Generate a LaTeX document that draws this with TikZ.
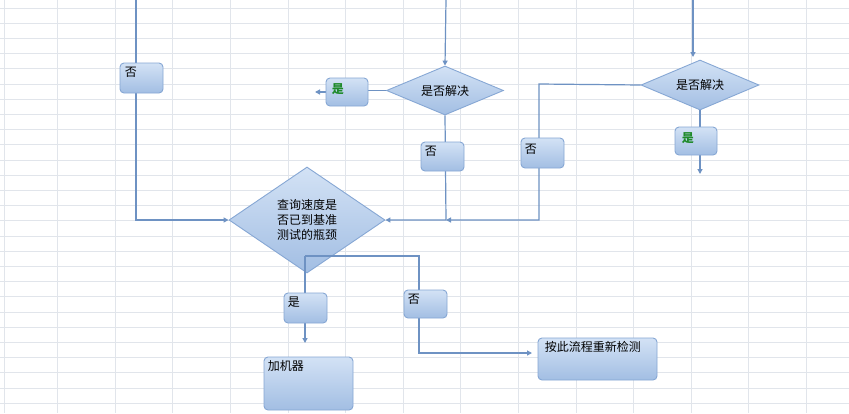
\documentclass[tikz,border=0pt]{standalone}
\usepackage{fontspec}
\newfontfamily\cjk{Noto Sans CJK SC}
\usetikzlibrary{shapes.geometric,arrows.meta}
\definecolor{gridc}{HTML}{E1E5EB}
\definecolor{linec}{HTML}{6E92C3}
\definecolor{boxtop}{HTML}{D3E2F5}
\definecolor{boxbot}{HTML}{A2BEE3}
\definecolor{boxedge}{HTML}{86A7D4}
\definecolor{yesgreen}{HTML}{1E8A2A}
\tikzset{
  flowbox/.style={draw=boxedge, line width=0.9pt, rounded corners=4pt, top color=boxtop, bottom color=boxbot, inner sep=0pt},
  decide/.style={diamond, shape aspect=2, draw=boxedge, line width=0.9pt, top color=boxtop, bottom color=boxbot, inner sep=0pt, align=center},
  conn/.style={draw=linec, line width=1.2pt},
  arr/.style={conn, -{Triangle[length=5pt,width=5pt]}},
  tl/.style n args={3}{label={[anchor=north west,inner sep=0pt,xshift=#1,yshift=#2]north west:#3}},
  gyes/.style={tl={#1}{-6pt}{\textcolor{yesgreen}{\bfseries 是}}}
}
\begin{document}
\begin{tikzpicture}[x=1pt,y=-1pt,font=\cjk\fontsize{12}{15}\selectfont]
\useasboundingbox (0,0) rectangle (849,413);
\fill[white] (0,0) rectangle (849,413);
% spreadsheet grid
\foreach \k in {0,...,26} \draw[gridc,line width=0.8pt] (0,{8+15.2*\k}) -- (849,{8+15.2*\k});
\foreach \k in {1,...,14} \draw[gridc,line width=0.8pt] ({57.6*\k},0) -- ({57.6*\k},413);
\draw[gridc,line width=0.8pt] (4,0) -- (4,413);

% nodes (shapes)
\node[decide, minimum width=156pt, minimum height=106pt] (big) at (307,220) {查询速度是\\否已到基准\\测试的瓶颈};
\node[decide, minimum width=117pt, minimum height=49pt] (diaM) at (445,90.5) {是否解决};
\node[decide, minimum width=118pt, minimum height=50pt] (diaR) at (700,85) {是否解决};

% coordinates
\coordinate (topL) at (136,0);
\coordinate (turnL) at (136,220);
\coordinate (topM) at (446,0);
\coordinate (endYesM) at (315,92);
\coordinate (turnM) at (446,220);
\coordinate (topR) at (693,0);
\coordinate (tipR) at (693,57);
\coordinate (endYesR) at (700,174);
\coordinate (cR1) at (539,84);
\coordinate (cR2) at (539,220);
\coordinate (split) at (305,256);
\coordinate (cB1) at (419,256);
\coordinate (cB2) at (419,353);
\coordinate (endRe) at (532,353);
\coordinate (endYesB) at (305,343);

% connectors
\draw[arr] (topL) -- (turnL) -- (big.west);
\draw[arr] (topM) -- (diaM.north);
\draw[conn] (diaM.west) -- (361,90.5);
\draw[arr] (330,92) -- (endYesM);
\draw[arr] (diaM.south) -- (turnM) -- (big.east);
\draw[arr] (topR) -- (tipR);
\draw[conn] (diaR.south) -- (700,141);
\draw[arr] (700,150) -- (endYesR);
\draw[arr] (diaR.west) -- (cR1) -- (cR2) -- (turnM);
\draw[arr] (split) -- (cB1) -- (cB2) -- (endRe);
\draw[arr] (split) -- (endYesB);

% boxes
\node[flowbox, minimum width=43pt, minimum height=30pt, tl={5pt}{-4pt}{否}] (noL) at (141.5,78) {};
\node[flowbox, minimum width=42pt, minimum height=28pt, gyes={6pt}] (yesM) at (347,92) {};
\node[flowbox, minimum width=43pt, minimum height=29pt, tl={4pt}{-4pt}{否}] (noM) at (442.5,156.5) {};
\node[flowbox, minimum width=43pt, minimum height=30pt, tl={4pt}{-6pt}{否}] (noR) at (542.5,153) {};
\node[flowbox, minimum width=42pt, minimum height=28pt, gyes={7pt}] (yesR) at (696,141) {};
\node[flowbox, minimum width=43pt, minimum height=30pt, tl={4pt}{-4pt}{是}] (yesB) at (305.5,308) {};
\node[flowbox, minimum width=43pt, minimum height=28pt, tl={4pt}{-4pt}{否}] (noB) at (425.5,304) {};
\node[flowbox, minimum width=89pt, minimum height=53pt, tl={4pt}{-4pt}{加机器}] (addm) at (308.5,383.5) {};
\node[flowbox, minimum width=119pt, minimum height=42pt, tl={7pt}{-4pt}{按此流程重新检测}] (recheck) at (597.5,359) {};
\end{tikzpicture}
\end{document}
